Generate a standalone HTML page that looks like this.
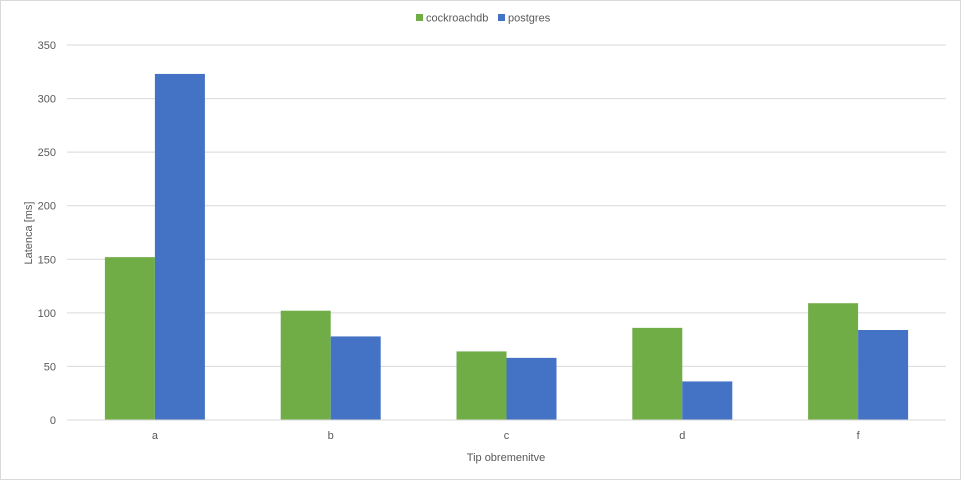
<!DOCTYPE html>
<html><head><meta charset="utf-8"><style>
body{margin:0;background:#fff;}
svg text{font-family:"Liberation Sans",sans-serif;fill:#595959;}
</style></head><body>
<svg id="chart" width="961" height="480">
<rect x="0.5" y="0.5" width="960" height="479" fill="#fff" stroke="#d9d9d9"/>
<g id="grid"></g><g id="bars"></g><g id="axes"></g>
<g>
<rect x="416" y="14" width="7" height="7" fill="#70ad47"/>
<text x="426" y="21.5" font-size="11">cockroachdb</text>
<rect x="498" y="14" width="7" height="7" fill="#4472c4"/>
<text x="508" y="21.5" font-size="11">postgres</text>
</g>
<text x="506" y="461" font-size="11" text-anchor="middle">Tip obremenitve</text>
<text transform="translate(32,233) rotate(-90)" font-size="11" text-anchor="middle">Latenca [ms]</text>
</svg>
<script>
const categories=["a","b","c","d","f"];
const cockroachdb=[152,102,64,86,109];
const postgres=[323,78,58,36,84];
const yTicks=[0,50,100,150,200,250,300,350];
const NS="http://www.w3.org/2000/svg";
const X0=67,X1=946,Y0=420,Y1=45,YMAX=350;
const y=v=>Y0-(v/YMAX)*(Y0-Y1);
const bandW=(X1-X0)/categories.length;
const xc=i=>X0+bandW*(i+0.5);
function mk(tag,attrs,parent){const e=document.createElementNS(NS,tag);for(const k in attrs)e.setAttribute(k,attrs[k]);parent.appendChild(e);return e;}
const grid=document.getElementById('grid'),bars=document.getElementById('bars'),axes=document.getElementById('axes');
yTicks.forEach(t=>{
 const l=mk('line',{x1:X0,x2:X1,y1:y(t),y2:y(t),stroke:'#d9d9d9','stroke-width':1},grid);
 
 
 const tx=mk('text',{x:56,y:y(t)+4,'font-size':11,'text-anchor':'end'},axes);
 tx.textContent=t;
 
 
});
const bw=50;
categories.forEach((c,i)=>{
 const g=mk('rect',{x:xc(i)-bw,y:y(cockroachdb[i]),width:bw,height:Y0-y(cockroachdb[i]),fill:'#70ad47'},bars);
 
 
 const b=mk('rect',{x:xc(i),y:y(postgres[i]),width:bw,height:Y0-y(postgres[i]),fill:'#4472c4'},bars);
 
 
 const tx=mk('text',{x:xc(i),y:439,'font-size':11,'text-anchor':'middle'},axes);
 tx.textContent=c;
 
 
});
const ax=mk('line',{x1:X0,x2:X1,y1:Y0,y2:Y0,stroke:'#d9d9d9'},axes);


</script>
</body></html>
